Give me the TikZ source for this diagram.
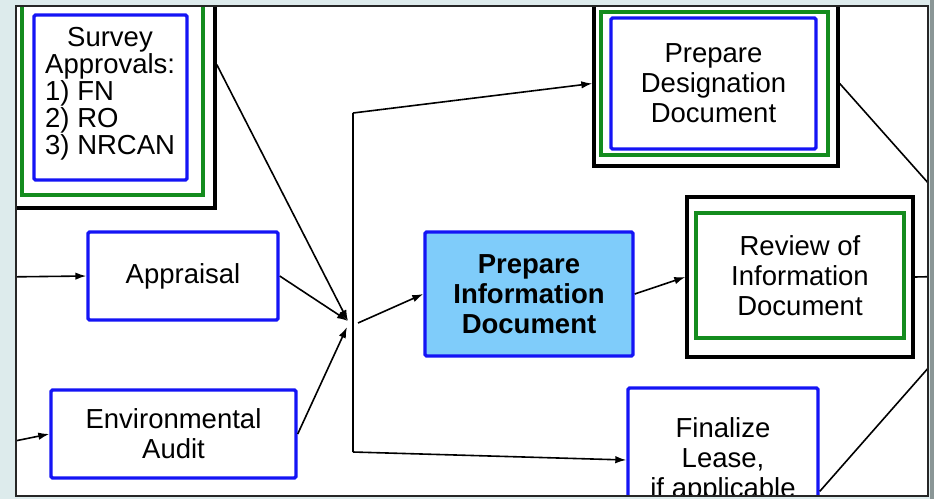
\documentclass[tikz,border=0pt]{standalone}
\usepackage{fontspec}
\setmainfont{Liberation Sans}
\usetikzlibrary{arrows.meta}
\definecolor{pagebg}{RGB}{221,235,236}
\definecolor{edgegray}{RGB}{138,150,150}
\definecolor{boxblue}{RGB}{20,20,245}
\definecolor{boxgreen}{RGB}{20,140,30}
\definecolor{infofill}{RGB}{127,204,250}
\begin{document}
\begin{tikzpicture}[x=1pt,y=-1pt,
  txt/.style={font=\fontsize{27.5}{30}\selectfont, align=center},
  outerbox/.style={draw=black, line width=3.4pt, fill=white, inner sep=0pt},
  greenbox/.style={draw=boxgreen, line width=3.2pt, inner sep=0pt},
  bluebox/.style={draw=boxblue, line width=3.4pt, rounded corners=1.5pt, fill=white, inner sep=0pt},
  conn/.style={line width=1.6pt, -{Latex[length=11pt,width=7.5pt]}},
  link/.style={line width=1.6pt}]
\useasboundingbox (0,0) rectangle (934,499);
% page background around the panel
\fill[pagebg] (0,0) rectangle (934,499);
\fill[edgegray] (929.5,0) rectangle (934,499);

\begin{scope}
\clip (16,6) rectangle (928,496);
\fill[white] (16,6) rectangle (928,496);

% Survey approvals (triple frame)
\node[outerbox, minimum width=200, minimum height=221] (surv) at (115,97.5) {};
\node[greenbox, minimum width=181, minimum height=195] (survmid) at (112.5,97.5) {};
\node[bluebox, minimum width=153, minimum height=165] (survin) at (110.5,97.5) {};
\node[align=left, anchor=west, inner sep=0pt, font=\fontsize{27.5}{27}\selectfont]
  (survtxt) at (45,94) {\hspace*{22pt}Survey\\Approvals:\\1) FN\\2) RO\\3) NRCAN};

% Inputs
\node[bluebox, txt, minimum width=190, minimum height=88] (appr) at (183,276) {Appraisal};
\node[bluebox, txt, minimum width=245, minimum height=88] (env) at (173.5,434) {Environmental\\Audit};

% Central task
\node[bluebox, fill=infofill, txt, font=\fontsize{27.5}{30}\selectfont\bfseries,
  minimum width=208, minimum height=124] (pinfo) at (529,294) {Prepare\\Information\\Document};

% Designation document (triple frame)
\node[outerbox, minimum width=244, minimum height=165] (desig) at (716,83.5) {};
\node[greenbox, minimum width=227, minimum height=143] (desigmid) at (714.5,83.5) {};
\node[bluebox, txt, minimum width=205, minimum height=131] (desigin) at (713.5,83.5) {Prepare\\Designation\\Document};

% Review of information document (double frame)
\node[outerbox, minimum width=226, minimum height=160] (review) at (800,277) {};
\node[greenbox, txt, fill=white, minimum width=208, minimum height=125] (reviewin) at (800,275.5) {Review of\\Information\\Document};

% Finalize lease
\node[bluebox, txt, minimum width=190, minimum height=144] (final) at (723,460) {Finalize\\Lease,\\if applicable};

% Junction points
\coordinate (inA) at (0,277);
\coordinate (inE) at (0,444);
\coordinate (j) at (348,321);
\coordinate (j2) at (347,327);
\coordinate (vtop) at (353,113);
\coordinate (vbot) at (353,452);
\coordinate (mid) at (358,323);
\coordinate (next) at (1010,275);

% Connectors
\draw[conn] (inA) -- (appr.west);
\draw[conn] (inE) -- (env.west);
\draw[conn] (surv.18) -- (j);
\draw[conn] (appr.east) -- (j);
\draw[conn] (env.east) -- (j2);
\draw[link] (vtop) -- (vbot);
\draw[conn] (vtop) -- (desig.west);
\draw[conn] (vbot) -- (final.west);
\draw[conn] (mid) -- (pinfo.west);
\draw[conn] (pinfo.east) -- (review.west);
\draw[link] (desig.east) -- (next);
\draw[link] (review.east) -- (next);
\draw[link] (final.-18) -- (next);
\end{scope}

% panel frame
\draw[line width=2pt, black!85] (16,6) rectangle (928,496);
\end{tikzpicture}
\end{document}
